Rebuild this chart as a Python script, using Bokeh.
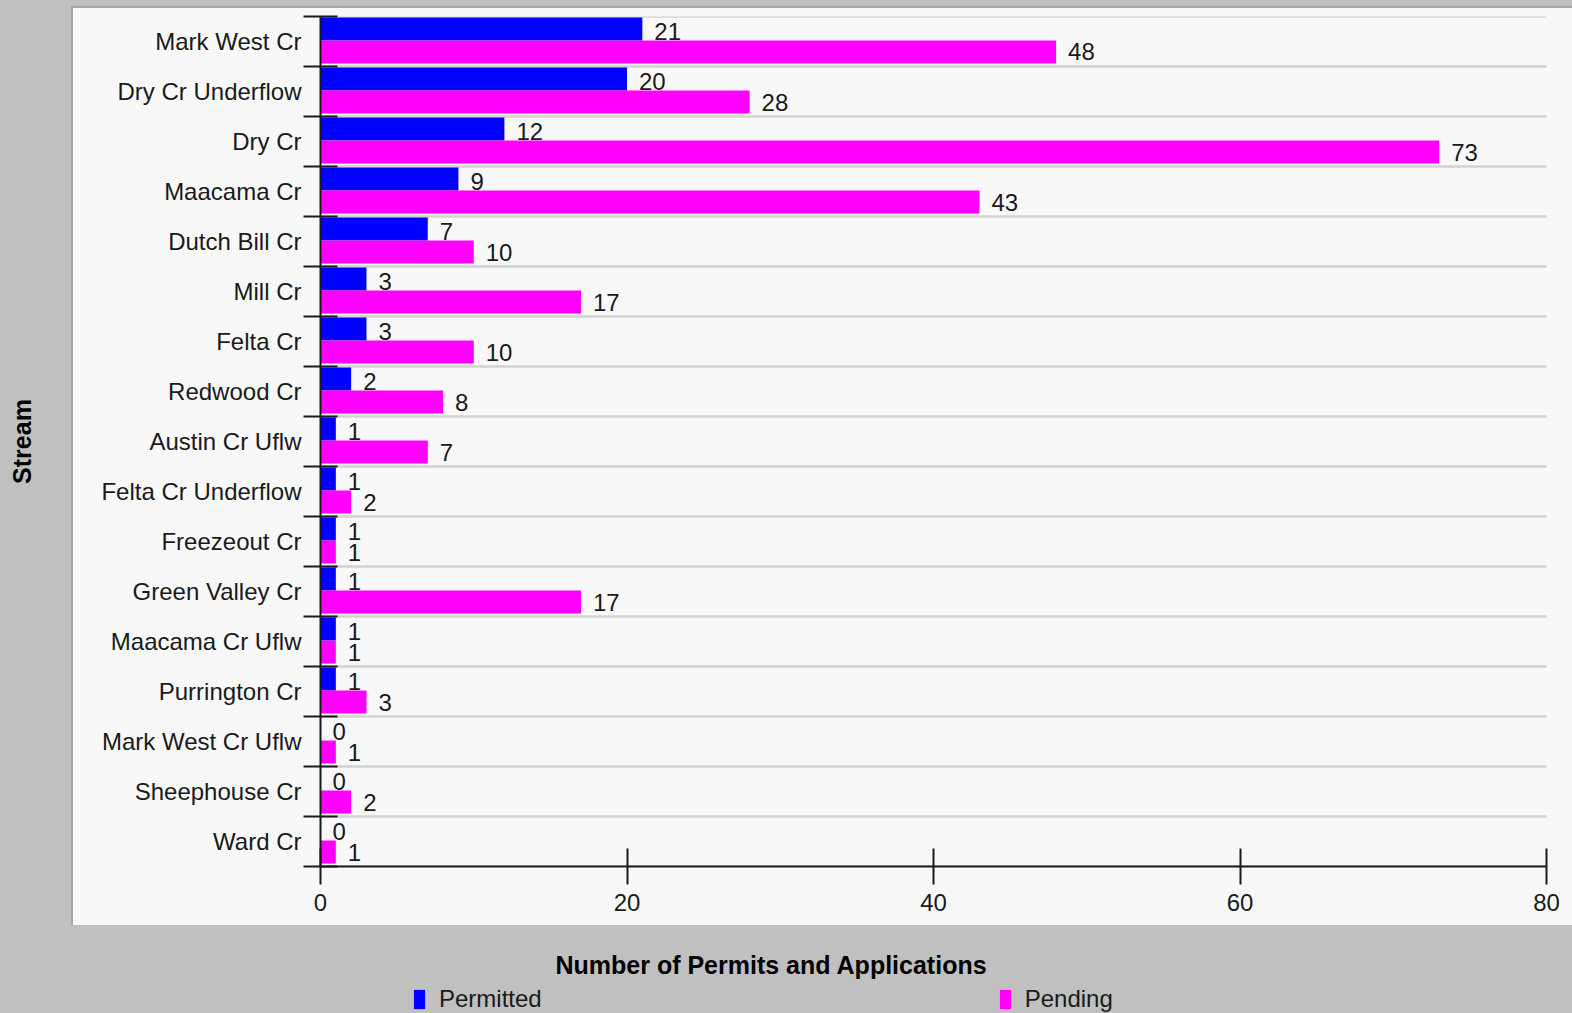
from bokeh.plotting import figure
from bokeh.layouts import column
from bokeh.models import (ColumnDataSource, FactorRange, Range1d, CategoricalAxis, FixedTicker,
                          CategoricalTicker, Grid, Legend, LegendItem, Label)
from bokeh.transform import dodge
from bokeh.core.properties import value
from bokeh.embed import file_html
from bokeh.resources import INLINE

# ---------------- data ----------------
streams = ["Mark West Cr", "Dry Cr Underflow", "Dry Cr", "Maacama Cr", "Dutch Bill Cr",
           "Mill Cr", "Felta Cr", "Redwood Cr", "Austin Cr Uflw", "Felta Cr Underflow",
           "Freezeout Cr", "Green Valley Cr", "Maacama Cr Uflw", "Purrington Cr",
           "Mark West Cr Uflw", "Sheephouse Cr", "Ward Cr"]
permitted = [21, 20, 12, 9, 7, 3, 3, 2, 1, 1, 1, 1, 1, 1, 0, 0, 0]
pending = [48, 28, 73, 43, 10, 17, 10, 8, 7, 2, 1, 17, 1, 3, 1, 2, 1]
x_ticks = [0, 20, 40, 60, 80]
series_names = ["Permitted", "Pending"]
series_colors = ["#0000ff", "#ff00ff"]
x_title = "Number of Permits and Applications"
y_title = "Stream"

FONT = "Liberation Sans"
TXT = "#1a1a1a"

W = 1572
H_TOP, H_BOT = 925, 88
FL, FR, FT, FB = 320, 1546, 16, 866

factors = list(reversed(streams))
src = ColumnDataSource(dict(
    stream=streams,
    permitted=permitted,
    pending=pending,
    permitted_txt=[str(v) for v in permitted],
    pending_txt=[str(v) for v in pending],
))

# ================= main chart =================
p = figure(width=W, height=H_TOP,
           x_range=Range1d(0, 80),
           y_range=FactorRange(factors=factors, range_padding=0),
           output_backend="svg", toolbar_location=None,
           min_border_left=FL, min_border_right=W - FR,
           min_border_top=FT, min_border_bottom=H_TOP - FB,
           border_fill_color=None, background_fill_color="#f8f8f8",
           outline_line_color=None)

# grey window with a light chart panel behind the canvas
p.styles = {
    "background": (
        "linear-gradient(#a4a4a4,#a4a4a4) 71px 6px / 2px 919px no-repeat, "
        "linear-gradient(#a4a4a4,#a4a4a4) 71px 6px / 1501px 2px no-repeat, "
        "linear-gradient(#f8f8f8,#f8f8f8) 72px 8px / 1500px 917px no-repeat, "
        "#c0c0c0"
    )
}

p.xgrid.visible = False
p.ygrid.visible = False

# category boundaries: companion factor range whose factor centres sit on the
# boundaries between the stream categories (ticks + grid lines there)
bnd_factors = ["b%d" % i for i in range(len(streams) + 1)]
p.extra_y_ranges = {"bnd": FactorRange(factors=bnd_factors, range_padding=-0.499,
                                       range_padding_units="absolute")}
bnd_axis = CategoricalAxis(y_range_name="bnd",
                           major_tick_in=17, major_tick_out=17,
                           major_label_text_font_size="1px", major_label_text_color=None,
                           major_label_standoff=0,
                           axis_line_color=TXT, axis_line_width=2,
                           major_tick_line_color=TXT, major_tick_line_width=2)

cat_axis = p.yaxis[0]
cat_axis.axis_line_color = None
cat_axis.major_tick_line_color = None
cat_axis.major_tick_in = 0
cat_axis.major_tick_out = 0
cat_axis.major_label_standoff = 2
cat_axis.major_label_text_font = FONT
cat_axis.major_label_text_font_size = "24px"
cat_axis.major_label_text_color = TXT
cat_axis.axis_label = y_title
cat_axis.axis_label_standoff = 62
cat_axis.axis_label_text_font = FONT
cat_axis.axis_label_text_font_size = "25px"
cat_axis.axis_label_text_font_style = "bold"
cat_axis.axis_label_text_color = "#000000"

p.left = [bnd_axis, cat_axis]

grid = Grid(dimension=1, ticker=CategoricalTicker(), y_range_name="bnd",
            grid_line_color="#d2d2d2", grid_line_width=2.5)
p.add_layout(grid)

xa = p.xaxis[0]
xa.ticker = FixedTicker(ticks=x_ticks)
xa.major_tick_in = 18
xa.major_tick_out = 18
xa.minor_tick_line_color = None
xa.axis_line_color = TXT
xa.axis_line_width = 2
xa.major_tick_line_color = TXT
xa.major_tick_line_width = 2
xa.major_label_standoff = 9
xa.major_label_text_font = FONT
xa.major_label_text_font_size = "24px"
xa.major_label_text_color = TXT

# bars
bar_off = [0.25, -0.21]
r1 = p.hbar(y=dodge("stream", bar_off[0], range=p.y_range), left=0, right="permitted",
            height=0.46, fill_color=series_colors[0], line_color=None, source=src)
r2 = p.hbar(y=dodge("stream", bar_off[1], range=p.y_range), left=0, right="pending",
            height=0.46, fill_color=series_colors[1], line_color=None, source=src)

# value labels
p.text(x="permitted", y=dodge("stream", 0.21, range=p.y_range), text="permitted_txt",
       x_offset=12, text_baseline="middle", text_align="left",
       text_font=value(FONT), text_font_size="24px", text_color=TXT, source=src)
p.text(x="pending", y=dodge("stream", -0.21, range=p.y_range), text="pending_txt",
       x_offset=12, text_baseline="middle", text_align="left",
       text_font=value(FONT), text_font_size="24px", text_color=TXT, source=src)

# ================= grey strip: x title + legend =================
# (its frame is aligned with the chart's frame by the column layout: x 320..1546)
pb = figure(width=W, height=H_BOT,
            x_range=p.x_range, y_range=p.y_range,
            output_backend="svg", toolbar_location=None,
            x_axis_location=None, y_axis_location=None,
            min_border_left=0, min_border_right=0,
            min_border_top=0, min_border_bottom=0,
            border_fill_color=None, background_fill_color=None,
            outline_line_color=None)
pb.styles = {"background": "#c0c0c0"}
pb.grid.visible = False

pb.add_layout(Label(x=771 - FL, y=H_BOT - (964 - H_TOP), x_units="screen", y_units="screen",
                    text=x_title, text_align="center", text_baseline="middle",
                    text_font=FONT, text_font_size="25px", text_font_style="bold",
                    text_color="#000000"))

# the same two series, hidden here, feed the legend
lb1 = pb.hbar(y=dodge("stream", bar_off[0], range=pb.y_range), left=0, right="permitted",
              height=0.46, fill_color=series_colors[0], line_color=None, source=src,
              visible=False)
lb2 = pb.hbar(y=dodge("stream", bar_off[1], range=pb.y_range), left=0, right="pending",
              height=0.46, fill_color=series_colors[1], line_color=None, source=src,
              visible=False)

legend = Legend(items=[LegendItem(label=series_names[0], renderers=[lb1]),
                       LegendItem(label=series_names[1], renderers=[lb2])],
                location=(412 - FL, 0), orientation="horizontal",
                glyph_width=14, glyph_height=24, label_standoff=13, spacing=456,
                padding=0, margin=0, border_line_color=None, background_fill_alpha=0,
                inactive_fill_alpha=0, click_policy="none",
                label_text_font=FONT, label_text_font_size="24px",
                label_text_color=TXT, label_text_baseline="middle")
pb.add_layout(legend)

layout = column(p, pb, spacing=0)

open("out.html", "w").write(file_html(layout, INLINE))
